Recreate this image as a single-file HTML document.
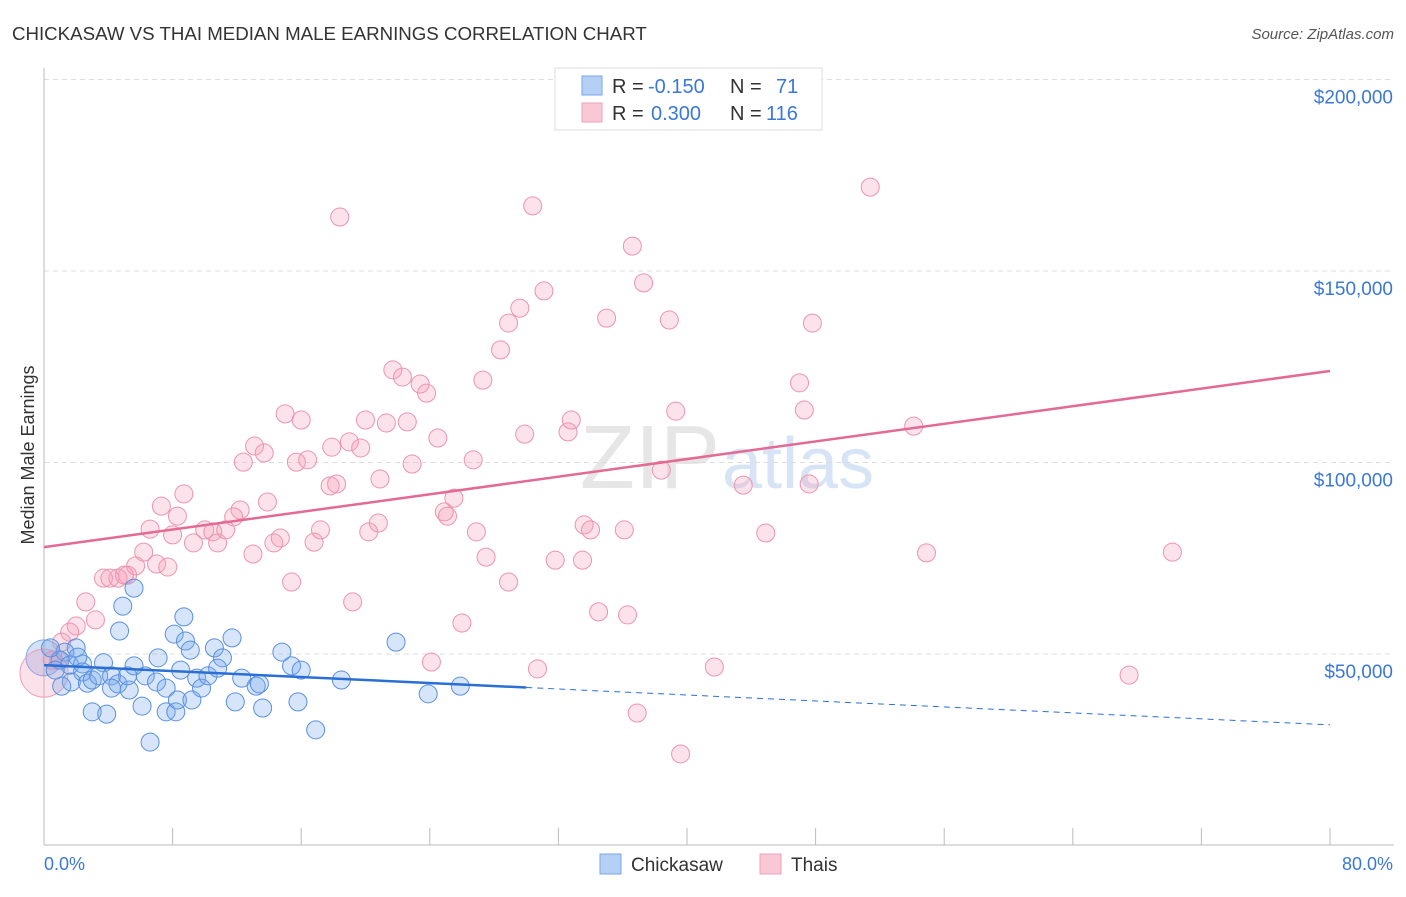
<!DOCTYPE html>
<html><head><meta charset="utf-8"><style>
body{margin:0;background:#fff;font-family:"Liberation Sans",sans-serif;}
svg text{font-family:"Liberation Sans",sans-serif;}
</style></head><body>
<svg id="c" width="1406" height="892" xmlns="http://www.w3.org/2000/svg">
<text x="12" y="40" font-size="18.7" fill="#333">CHICKASAW VS THAI MEDIAN MALE EARNINGS CORRELATION CHART</text>
<text x="1394" y="39" font-size="15" fill="#555" font-style="italic" text-anchor="end">Source: ZipAtlas.com</text>
<text x="720" y="488" font-size="90" fill="#e6e6e6" text-anchor="end" font-family="Liberation Serif">ZIP</text>
<text x="722" y="488" font-size="72" fill="#d6e4f5">atlas</text>
<g id="grid"></g><g id="pts"></g><g id="lines"></g>
<text transform="translate(34,455) rotate(-90)" font-size="18" fill="#333" text-anchor="middle">Median Male Earnings</text>
<text x="44" y="870" font-size="18" fill="#3a78d8">0.0%</text>
<text x="1393" y="870" font-size="18" fill="#3a78d8" text-anchor="end">80.0%</text>
<g>
<rect x="555" y="68" width="267" height="62" fill="#fff" stroke="#ddd"/>
<rect x="582" y="76" width="20" height="19" fill="#b6d0f5" stroke="#7aa6e8"/>
<rect x="582" y="103" width="20" height="19" fill="#f9c8d7" stroke="#ee9fb8"/>
<text x="612" y="93" font-size="20" fill="#333">R = </text><text x="648" y="93" font-size="20" fill="#3a78d8">-0.150</text>
<text x="730" y="93" font-size="20" fill="#333">N = </text><text x="776" y="93" font-size="20" fill="#3a78d8">71</text>
<text x="612" y="120" font-size="20" fill="#333">R = </text><text x="651" y="120" font-size="20" fill="#3a78d8">0.300</text>
<text x="730" y="120" font-size="20" fill="#333">N = </text><text x="766" y="120" font-size="20" fill="#3a78d8">116</text>
</g>
<g>
<rect x="600" y="854" width="21" height="20" fill="#b6d0f5" stroke="#7aa6e8"/>
<text x="631" y="871" font-size="19" fill="#333">Chickasaw</text>
<rect x="760" y="854" width="21" height="20" fill="#f9c8d7" stroke="#ee9fb8"/>
<text x="791" y="871" font-size="19" fill="#333">Thais</text>
</g>
</svg>
<script>
const yTicks=[50000,100000,150000,200000];
const yTickLabels=["$50,000","$100,000","$150,000","$200,000"];
const blueX=[2.0,1.3,1.0,1.6,2.4,2.1,3.7,2.4,1.7,2.7,3.0,3.4,4.2,4.6,4.2,5.3,5.2,5.6,4.9,4.7,3.0,3.9,6.1,6.6,6.3,7.0,7.1,7.6,7.6,8.2,8.3,8.1,8.7,8.8,9.1,8.5,9.2,9.5,9.8,10.2,10.6,11.1,10.8,11.7,11.9,12.3,13.2,13.6,13.4,14.8,15.4,16.0,15.8,16.9,18.5,21.9,23.9,25.9,1.1,5.6,0.4,0.7];
const blueY=[51.6,50.5,48.4,47.1,47.4,49.2,47.7,45.3,42.7,42.4,43.2,44.3,44.3,42.2,41.1,40.6,44.3,67.2,62.5,56.0,34.9,34.3,36.4,27.0,44.3,42.7,49.0,41.1,34.9,34.9,38.0,55.2,59.7,53.4,51.0,45.8,38.0,43.7,41.1,44.3,51.6,49.0,46.3,54.2,37.5,43.7,41.6,35.9,42.2,50.5,46.9,45.8,37.5,30.2,43.2,53.1,39.6,41.6,41.6,46.9,51.6,45.8];
const pinkX=[51.4,18.4,30.4,36.6,31.1,37.3,35.0,38.9,47.8,29.6,28.9,28.4,27.3,21.7,22.3,23.4,23.8,15.0,16.0,13.1,13.7,12.4,17.9,19.0,19.7,20.0,21.3,22.6,24.5,26.7,29.9,32.6,32.8,39.3,47.3,47.0,54.1,22.9,20.9,17.8,18.2,15.7,16.4,13.9,12.2,11.8,8.7,7.3,8.3,6.6,8.0,9.3,10.0,10.5,10.8,11.3,14.3,14.7,16.8,17.2,20.2,20.8,13.0,24.9,25.1,25.5,26.9,27.5,28.9,31.8,33.6,34.0,33.5,36.1,38.4,43.5,47.6,44.9,54.9,70.2,67.5,41.7,24.1,26.0,19.2,15.4,34.5,36.3,36.9,39.6,30.7,6.2,7.0,7.7,5.7,5.2,3.7,4.6,5.0,4.1,2.6,3.2,2.0,1.6,1.1,0.9,0.5];
const pinkY=[171.9,164.1,167.0,156.5,144.8,146.9,137.7,137.2,136.4,140.3,136.4,129.4,121.5,124.2,122.3,120.5,118.1,112.7,111.1,104.3,102.5,100.1,104.0,105.4,103.8,111.1,110.3,110.6,106.4,100.7,107.4,108.0,111.1,113.4,113.7,120.8,109.5,99.6,95.7,93.9,94.4,100.1,100.7,89.7,87.6,85.8,91.8,88.6,86.0,82.6,81.1,79.0,82.4,81.9,79.0,82.4,79.0,80.3,79.2,82.4,81.9,84.2,76.1,87.1,86.0,90.7,81.9,75.3,68.8,74.5,83.7,82.4,74.5,82.4,98.0,94.1,94.4,81.6,76.4,76.6,44.5,46.6,47.9,58.1,63.6,68.8,61.0,60.2,34.6,23.9,46.1,76.6,73.5,72.7,73.0,70.6,69.8,69.8,70.6,69.8,63.6,58.9,57.3,55.7,53.1,48.4,48.4];
const blueTrend=[47.1,31.5];
const pinkTrend=[77.9,123.9];
const blueSolidEnd=30;

const NS="http://www.w3.org/2000/svg";
const X=p=>44+p/80*1286;
const Y=k=>654-(k*1000-50000)*191.5/50000;
function mk(t,a,parent){const e=document.createElementNS(NS,t);for(const k in a)e.setAttribute(k,a[k]);parent.appendChild(e);return e;}
const grid=document.getElementById('grid'),pts=document.getElementById('pts'),lines=document.getElementById('lines');
yTicks.forEach((v,i)=>{
 const yy=Y(v/1000);
 const l=mk('line',{x1:44,x2:1394,y1:yy,y2:yy,stroke:'#ddd','stroke-dasharray':'5,4'},grid);
 
 
 const t=mk('text',{x:1393,y:yy+24,'font-size':19,fill:'#3a78d8','text-anchor':'end'},grid);
 t.textContent=yTickLabels[i];
 
 
});
const ax=mk('line',{x1:44,x2:44,y1:68,y2:845,stroke:'#bbb'},grid);


const bx=mk('line',{x1:44,x2:1394,y1:845,y2:845,stroke:'#bbb'},grid);


for(let i=0;i<=10;i++){const tx=X(i*8);const tk=mk('line',{x1:tx,x2:tx,y1:828,y2:845,stroke:'#bbb'},grid);
 
 }
const bb=mk('circle',{cx:44,cy:Y(49),r:18,fill:'rgba(110,160,230,0.3)',stroke:'#7aa6e8'},pts);


const pb=mk('circle',{cx:44,cy:Y(45),r:24,fill:'rgba(240,140,170,0.25)',stroke:'#ee9fb8'},pts);


pinkX.forEach((x,i)=>{const c=mk('circle',{cx:X(x),cy:Y(pinkY[i]),r:9,fill:'rgba(244,160,185,0.3)',stroke:'#ec94ae','stroke-width':1},pts);
 
 });
blueX.forEach((x,i)=>{const c=mk('circle',{cx:X(x),cy:Y(blueY[i]),r:9,fill:'rgba(120,170,235,0.3)',stroke:'#5a90e0','stroke-width':1},pts);
 
 });
const by=p=>blueTrend[0]+(blueTrend[1]-blueTrend[0])*p/80;
const l1=mk('line',{x1:X(0),y1:Y(by(0)),x2:X(blueSolidEnd),y2:Y(by(blueSolidEnd)),stroke:'#2a6fd6','stroke-width':2.5},lines);


const l2=mk('line',{x1:X(blueSolidEnd),y1:Y(by(blueSolidEnd)),x2:X(80),y2:Y(by(80)),stroke:'#2a6fd6','stroke-width':1,'stroke-dasharray':'6,5'},lines);


const l3=mk('line',{x1:X(0),y1:Y(pinkTrend[0]),x2:X(80),y2:Y(pinkTrend[1]),stroke:'#e46a95','stroke-width':2.5},lines);


</script>
</body></html>
